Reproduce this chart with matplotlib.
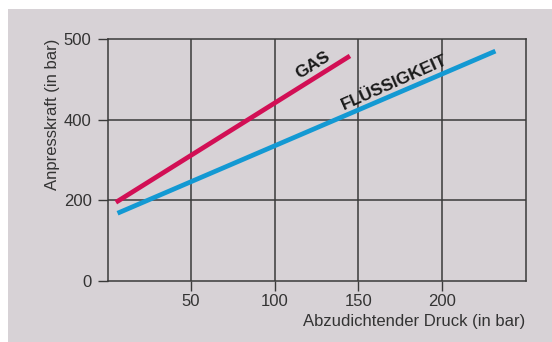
import matplotlib.pyplot as plt
import matplotlib as mpl
import numpy as np

# Werte (Anfangs- und Endpunkt jeder Geraden)
gas_druck = [5, 145]
gas_kraft = [195, 479]
fluessig_druck = [6, 232]
fluessig_kraft = [168, 485]

x_ticks = [50, 100, 150, 200]
y_ticks = [0, 200, 400, 500]

# die y-Achse ist im Original nicht linear: 0, 200, 400, 500 liegen gleich weit auseinander
y_stuetz = [0, 200, 400, 500]
y_pos = [0, 1, 2, 3]

def y_vor(v):
    return np.interp(v, y_stuetz, y_pos)

def y_zurueck(v):
    return np.interp(v, y_pos, y_stuetz)

plt.rcParams['font.family'] = ['Liberation Sans', 'DejaVu Sans']

fig = plt.figure(figsize=(5.52, 3.42), dpi=100)
fig.patch.set_facecolor('white')

# grauer Hintergrund (oben ein weisser Streifen)
fond = mpl.patches.Rectangle((8 / 552, 0), 1, (342 - 9) / 342, transform=fig.transFigure,
                             facecolor='#d7d2d6', edgecolor='none', zorder=-1)
fig.add_artist(fond)

ax = fig.add_axes([107.5 / 552, 61 / 342, 418 / 552, 242 / 342])
ax.set_facecolor('none')
ax.set_yscale('function', functions=(y_vor, y_zurueck))
ax.set_xlim(0, 250)
ax.set_ylim(0, 500)

grid_col = '#3a3a3a'
for s in ax.spines.values():
    s.set_color(grid_col)
    s.set_linewidth(1.1)

ax.set_xticks(x_ticks)
ax.set_yticks(y_ticks)
ax.tick_params(axis='both', direction='out', length=7.5, width=1.0, color=grid_col,
               labelsize=12, labelcolor='#333333')
ax.tick_params(axis='x', pad=1.5)
ax.tick_params(axis='y', pad=4)

# Gitter nur innerhalb der Achsen
for xv in x_ticks:
    ax.axvline(xv, color=grid_col, lw=1.1, zorder=1)
for yv in [200, 400]:
    ax.axhline(yv, color=grid_col, lw=1.1, zorder=1)

# Geraden
ax.plot(gas_druck, gas_kraft, color='#d20f55', lw=3.4, solid_capstyle='butt', zorder=3)
ax.plot(fluessig_druck, fluessig_kraft, color='#1399d3', lw=3.4, solid_capstyle='butt', zorder=3)

ax.text(122.8, 467, 'GAS', rotation=32, ha='center', va='center', fontsize=12.5,
        fontweight='bold', color='#1a1a1a', zorder=4)
ax.text(171.7, 446, 'FLÜSSIGKEIT', rotation=24, ha='center', va='center', fontsize=12.5,
        fontweight='bold', color='#1a1a1a', zorder=4)

ax.set_xlabel('Abzudichtender Druck (in bar)', fontsize=12, color='#333333', loc='right')
ax.set_ylabel('Anpresskraft (in bar)', fontsize=12, color='#333333', loc='top')
ax.xaxis.set_label_coords(1.0, -0.135)
ax.yaxis.set_label_coords(-0.113, 1.0)

fig.savefig('out.png', dpi=100, facecolor=fig.get_facecolor())
